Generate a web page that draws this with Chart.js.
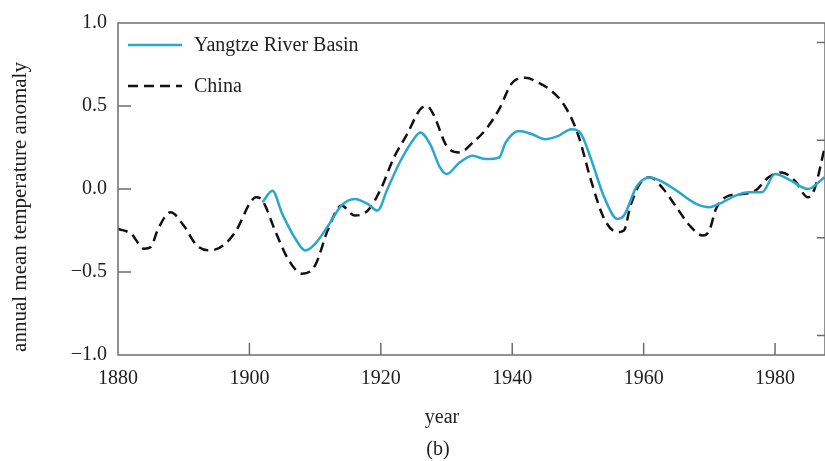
<!DOCTYPE html>
<html>
<head>
<meta charset="utf-8">
<script src="https://cdn.jsdelivr.net/npm/chart.js@4.4.1/dist/chart.umd.min.js"></script>
<style>
  html, body { margin: 0; padding: 0; background: #fff; overflow: hidden; }
  #chart { display: block; }
</style>
</head>
<body>
<canvas id="chart" width="825" height="461"></canvas>
<script>
// values (annual mean temperature anomaly)
const chinaYears = [1880, 1882, 1884, 1885, 1886, 1888, 1890, 1892, 1894, 1896, 1898, 1900, 1901, 1902,
  1904, 1906, 1908, 1910, 1912, 1914, 1916, 1918, 1920, 1922, 1924, 1926, 1927, 1928, 1930, 1932,
  1934, 1936, 1938, 1940, 1942, 1944, 1946, 1948, 1950, 1952, 1954, 1956, 1957, 1958, 1960, 1961,
  1963, 1965, 1967, 1969, 1970, 1971, 1973, 1975, 1977, 1979, 1981, 1983, 1985, 1986, 1987.5];
const chinaValues = [-0.24, -0.27, -0.36, -0.35, -0.25, -0.14, -0.22, -0.34, -0.37, -0.34, -0.25, -0.09, -0.05, -0.07,
  -0.26, -0.43, -0.51, -0.46, -0.24, -0.10, -0.16, -0.13, 0.00, 0.19, 0.33, 0.48, 0.50, 0.45, 0.26, 0.22,
  0.28, 0.36, 0.48, 0.64, 0.67, 0.64, 0.59, 0.50, 0.33, 0.05, -0.18, -0.26, -0.25, -0.10, 0.06, 0.07,
  0.00, -0.11, -0.22, -0.28, -0.25, -0.12, -0.04, -0.03, -0.01, 0.07, 0.10, 0.05, -0.05, 0.00, 0.24];

const yangtzeYears = [1902, 1903.5, 1905, 1907, 1908.5, 1910, 1912, 1914, 1916, 1918, 1919.5, 1921, 1923,
  1925, 1926, 1927.5, 1929, 1930, 1932, 1934, 1936, 1938, 1939, 1941, 1943, 1945, 1947, 1949, 1950.5,
  1952, 1954, 1956, 1957, 1959, 1961, 1963, 1965, 1968, 1970, 1972, 1974, 1976, 1978, 1980, 1982,
  1985, 1987.5];
const yangtzeValues = [-0.08, -0.01, -0.15, -0.30, -0.37, -0.33, -0.22, -0.10, -0.06, -0.09, -0.13, 0.00, 0.17,
  0.30, 0.34, 0.27, 0.13, 0.09, 0.16, 0.20, 0.18, 0.19, 0.28, 0.35, 0.33, 0.30, 0.32, 0.36, 0.33,
  0.18, -0.05, -0.18, -0.16, 0.02, 0.07, 0.04, -0.01, -0.09, -0.11, -0.08, -0.04, -0.02, -0.02, 0.09, 0.06,
  0.00, 0.07];

const seriesLabels = ["Yangtze River Basin", "China"];
const xTickStep = 20;
const yTickStep = 0.5;
// tick marks of the neighbouring axis on the right edge (unlabelled)
const rightTickValues = [1.5, 0.5, -0.5, -1.5];

const FONT = "'Liberation Serif', 'Times New Roman', serif";
const TEXT = "#1e1e1e";
const AXIS = "#6e6e6e";

function toPoints(xs, ys) {
  return xs.map((x, i) => ({ x: x, y: ys[i] }));
}

function fmtY(v) {
  if (Math.abs(v) < 1e-9) return "0.0";
  return v < 0 ? "\u2212" + Math.abs(v).toFixed(1) : v.toFixed(1);
}

const frame = {
  id: "frame",
  afterDraw(chart) {
    const ctx = chart.ctx;
    const a = chart.chartArea;
    const xs = chart.scales.x;
    const ys = chart.scales.y;
    const y2 = chart.scales.y2;

    ctx.save();
    ctx.strokeStyle = AXIS;
    ctx.lineWidth = 1.5;
    ctx.strokeRect(a.left, a.top, a.right - a.left, a.bottom - a.top);

    // inward ticks
    ctx.beginPath();
    xs.ticks.forEach(t => {
      if (t.value <= xs.min || t.value >= xs.max) return;
      const px = xs.getPixelForValue(t.value);
      ctx.moveTo(px, a.bottom);
      ctx.lineTo(px, a.bottom - 12);
    });
    ys.ticks.forEach(t => {
      if (t.value <= ys.min || t.value >= ys.max) return;
      const py = ys.getPixelForValue(t.value);
      ctx.moveTo(a.left, py);
      ctx.lineTo(a.left + 13, py);
    });
    rightTickValues.forEach(v => {
      const py = y2.getPixelForValue(v);
      ctx.moveTo(a.right, py);
      ctx.lineTo(a.right - 8, py);
    });
    ctx.stroke();

    // axis titles and panel label
    ctx.fillStyle = TEXT;
    ctx.textAlign = "center";
    ctx.textBaseline = "middle";
    ctx.save();
    ctx.font = "21px " + FONT;
    ctx.translate(20, 207);
    ctx.rotate(-Math.PI / 2);
    ctx.fillText("annual mean temperature anomaly", 0, 0);
    ctx.restore();
    ctx.font = "20px " + FONT;
    ctx.fillText("year", 442, 418);
    ctx.fillText("(b)", 438, 450);

    // legend inside the plot
    chart.data.datasets.forEach((ds, i) => {
      const ly = a.top + 22 + i * 41;
      ctx.save();
      ctx.strokeStyle = ds.borderColor;
      ctx.lineWidth = ds.borderWidth;
      ctx.setLineDash(ds.borderDash || []);
      ctx.beginPath();
      ctx.moveTo(a.left + 10, ly);
      ctx.lineTo(a.left + 64, ly);
      ctx.stroke();
      ctx.restore();
      ctx.textAlign = "left";
      ctx.fillText(ds.label, a.left + 76, ly + 1);
    });
    ctx.restore();
  }
};

new Chart(document.getElementById("chart"), {
  type: "line",
  data: {
    datasets: [
      {
        label: seriesLabels[0],
        data: toPoints(yangtzeYears, yangtzeValues),
        borderColor: "#2aa7cf",
        borderWidth: 2.5,
        pointRadius: 0,
        cubicInterpolationMode: "monotone",
        fill: false
      },
      {
        label: seriesLabels[1],
        data: toPoints(chinaYears, chinaValues),
        borderColor: "#111",
        borderWidth: 2.5,
        borderDash: [10, 6],
        pointRadius: 0,
        cubicInterpolationMode: "monotone",
        fill: false
      }
    ]
  },
  options: {
    responsive: false,
    animation: false,
    devicePixelRatio: 1,
    layout: { padding: { top: 20, right: 0, left: 0, bottom: 0 } },
    plugins: {
      legend: { display: false },
      tooltip: { enabled: false }
    },
    scales: {
      x: {
        type: "linear",
        min: 1880,
        max: 1987.6,
        grid: { display: false, drawTicks: false },
        border: { display: false },
        ticks: {
          stepSize: xTickStep,
          includeBounds: false,
          padding: 12,
          color: TEXT,
          font: { family: FONT, size: 20 },
          callback: v => String(v)
        },
        afterFit: s => { s.height = 106; }
      },
      y: {
        min: -1,
        max: 1,
        grid: { display: false, drawTicks: false },
        border: { display: false },
        ticks: {
          stepSize: yTickStep,
          padding: 11,
          color: TEXT,
          font: { family: FONT, size: 20 },
          callback: v => fmtY(v)
        },
        afterFit: s => { s.width = 118; }
      },
      y2: {
        position: "right",
        min: -1.7,
        max: 1.7,
        grid: { display: false, drawTicks: false },
        border: { display: false },
        ticks: { display: false },
        afterFit: s => { s.width = 0; }
      }
    }
  },
  plugins: [frame]
});
</script>
</body>
</html>
